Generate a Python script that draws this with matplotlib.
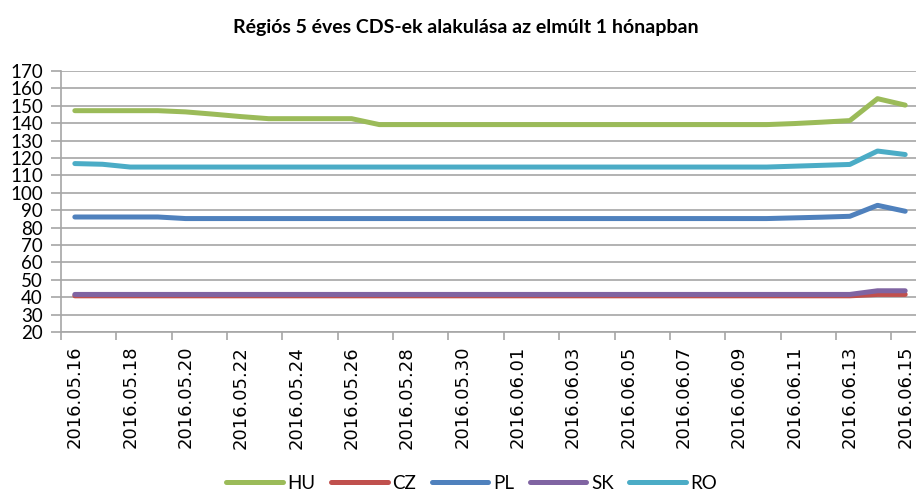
import matplotlib
matplotlib.use("Agg")
import matplotlib.pyplot as plt
import numpy as np

# ─────────────────────────────────────────────────────────────
# DATA  (daily 5y CDS, 2016.05.16 – 2016.06.15)
# ─────────────────────────────────────────────────────────────
dates = ["2016.05.16", "2016.05.17", "2016.05.18", "2016.05.19", "2016.05.20",
         "2016.05.21", "2016.05.22", "2016.05.23", "2016.05.24", "2016.05.25",
         "2016.05.26", "2016.05.27", "2016.05.28", "2016.05.29", "2016.05.30",
         "2016.05.31", "2016.06.01", "2016.06.02", "2016.06.03", "2016.06.04",
         "2016.06.05", "2016.06.06", "2016.06.07", "2016.06.08", "2016.06.09",
         "2016.06.10", "2016.06.11", "2016.06.12", "2016.06.13", "2016.06.14",
         "2016.06.15"]

hu = [147.2, 147.2, 147.2, 147.2, 146.5, 145.2, 143.8, 142.6, 142.6, 142.6,
      142.6, 139.2, 139.2, 139.2, 139.2, 139.2, 139.2, 139.2, 139.2, 139.2,
      139.2, 139.2, 139.2, 139.2, 139.2, 139.2, 139.8, 140.6, 141.5, 154.1,
      150.4]
cz = [40.8] * 28 + [40.8, 41.6, 41.6]
pl = [86.1, 86.1, 86.1, 86.1, 85.2, 85.2, 85.2, 85.2, 85.2, 85.2,
      85.2, 85.2, 85.2, 85.2, 85.2, 85.2, 85.2, 85.2, 85.2, 85.2,
      85.2, 85.2, 85.2, 85.2, 85.2, 85.2, 85.6, 86.0, 86.5, 92.8,
      89.4]
sk = [41.6] * 28 + [41.6, 43.7, 43.7]
ro = [116.8, 116.4, 114.8, 114.8, 114.8, 114.8, 114.8, 114.8, 114.8, 114.8,
      114.8, 114.8, 114.8, 114.8, 114.8, 114.8, 114.8, 114.8, 114.8, 114.8,
      114.8, 114.8, 114.8, 114.8, 114.8, 114.8, 115.3, 115.8, 116.3, 124.0,
      122.0]

series = [("HU", hu, "#9BBB59"),
          ("CZ", cz, "#C0504D"),
          ("PL", pl, "#4F81BD"),
          ("SK", sk, "#8064A2"),
          ("RO", ro, "#4BACC6")]

# ─────────────────────────────────────────────────────────────
# PLOT
# ─────────────────────────────────────────────────────────────
fig = plt.figure(figsize=(9.16, 4.91), dpi=100)
ax = fig.add_axes([0.0666, 0.3238, 0.9367, 0.5316])

x = np.arange(len(dates))
for name, vals, col in series:
    ax.plot(x, vals, color=col, lw=3.6, label=name, solid_capstyle="round")

ax.set_xlim(-0.5, len(dates) - 0.5)
ax.set_ylim(20, 170)
ax.set_yticks(np.arange(20, 171, 10))
ax.yaxis.grid(True, color="#A6A6A6", lw=1.2)
ax.set_axisbelow(True)

# labels every 2 days, tick marks on category boundaries
ax.set_xticks(x[::2])
ax.set_xticklabels(dates[::2], rotation=90, fontsize=13, family="DejaVu Sans")
ax.set_xticks(np.arange(-0.5, len(dates), 2), minor=True)
ax.tick_params(axis="x", which="major", length=0, pad=10)
ax.tick_params(axis="x", which="minor", length=6, color="#A6A6A6", width=1.2)
ax.tick_params(axis="y", length=7, color="#A6A6A6", width=1.2, pad=6,
               labelsize=13.5)
for lab in ax.get_yticklabels():
    lab.set_family("Lato")

for s in ["top", "right"]:
    ax.spines[s].set_visible(False)
for s in ["left", "bottom"]:
    ax.spines[s].set_color("#A6A6A6")
    ax.spines[s].set_linewidth(1.2)

fig.text(0.509, 0.945, "Régiós 5 éves CDS-ek alakulása az elmúlt 1 hónapban",
         ha="center", va="center", fontsize=14, fontweight="bold", family="Lato")

fig.legend(loc="center", bbox_to_anchor=(0.515, 0.016), ncol=5, frameon=False,
           handlelength=3.0, columnspacing=0.85, handletextpad=0.25,
           prop={"family": "Lato", "size": 13.5})

fig.savefig("out.png", dpi=100)
